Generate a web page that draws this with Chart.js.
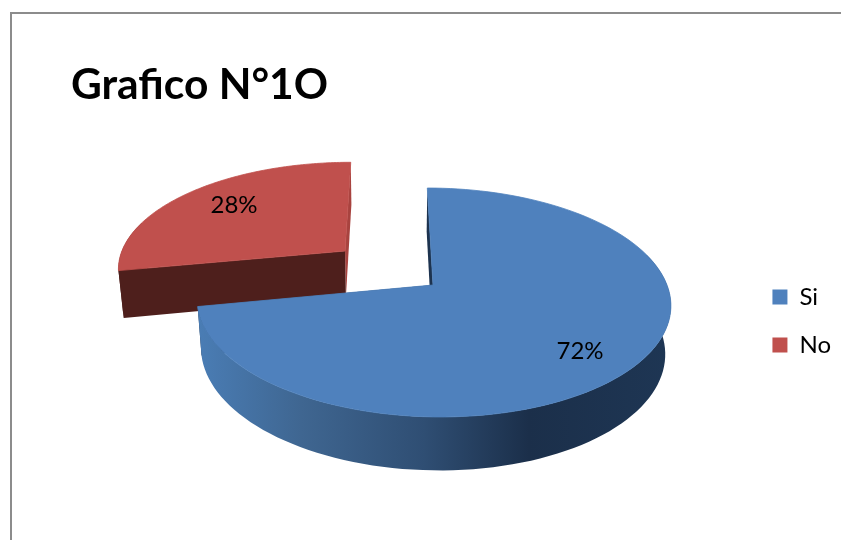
<!DOCTYPE html>
<html>
<head>
<meta charset="utf-8">
<title>Grafico N°1O</title>
<script src="https://cdn.jsdelivr.net/npm/chart.js@4"></script>
<style>
  html, body { margin: 0; padding: 0; background: #fff; overflow: hidden; }
  #frame { position: absolute; left: 10px; top: 12px; width: 840px; height: 540px;
           border-left: 2px solid #8c8c8c; border-top: 2px solid #8c8c8c; }
  #pie { position: absolute; left: 0; top: 0; }
</style>
</head>
<body>
<div id="frame"></div>
<canvas id="pie" width="841" height="540"></canvas>
<script>
const categories = ["Si", "No"];
const values = [72, 28];
const sliceColors = ["#4f81bd", "#c0504d"];
const startFaceColors = ["#1d334f", "#4e1f1c"];
const endFaceColors = ["#1d334f", "#a8433f"];

// tilted, slightly converging view of the pie
const view = {
  cx: 433, cy: 285, radius: 234, squash: 111.8,
  vanishX: 390, persp: 0.1528, thick: 49, thickPersp: 0.02,
};
const explode = [0, 0.5];

// u: right, v: toward the viewer (both in radii), h: 0 top face, 1 bottom face
function project(u, v, h) {
  const w = 1 - view.persp * v + view.thickPersp * h;
  return {
    x: view.vanishX + (view.cx + u * view.radius - view.vanishX) / w,
    y: view.cy + (view.squash * v + view.thick * h) / w,
  };
}

function tracePoly(ctx, pts) {
  ctx.beginPath();
  pts.forEach((p, i) => (i ? ctx.lineTo(p.x, p.y) : ctx.moveTo(p.x, p.y)));
  ctx.closePath();
}

function fillPoly(ctx, pts, fill) {
  tracePoly(ctx, pts);
  ctx.fillStyle = fill;
  ctx.fill();
}

function sliceShape(arc, i) {
  const a0 = arc.startAngle + Math.PI / 2;
  const a1 = arc.endAngle + Math.PI / 2;
  const mid = (a0 + a1) / 2;
  const du = Math.sin(mid) * explode[i];
  const dv = -Math.cos(mid) * explode[i];
  const rim = (a, h) => project(du + Math.sin(a), dv - Math.cos(a), h);
  const apex = (h) => project(du, dv, h);
  const steps = 120;
  const angles = [];
  for (let s = 0; s <= steps; s++) angles.push(a0 + ((a1 - a0) * s) / steps);
  return { a0, a1, rim, apex, angles };
}

function outerWallGradient(ctx) {
  const g = ctx.createLinearGradient(197, 0, 671, 0);
  g.addColorStop(0, "#4a7db5");
  g.addColorStop(0.22, "#3f6691");
  g.addColorStop(0.48, "#2f4e73");
  g.addColorStop(0.7, "#1b2f4a");
  g.addColorStop(1, "#1e3654");
  return g;
}

function drawSlice(ctx, arc, i) {
  const s = sliceShape(arc, i);
  fillPoly(ctx, [s.rim(s.a1, 0), s.apex(0), s.apex(1), s.rim(s.a1, 1)], endFaceColors[i]);

  const wall = i === 0 ? outerWallGradient(ctx) : startFaceColors[i];
  const front = s.angles.filter((a) => Math.cos(a) < 0.3);
  if (front.length) {
    const top = front.map((a) => s.rim(a, 0));
    const bottom = front.map((a) => s.rim(a, 1)).reverse();
    fillPoly(ctx, top.concat(bottom), wall);
  }
  fillPoly(ctx, [s.rim(s.a0, 0), s.apex(0), s.apex(1), s.rim(s.a0, 1)], startFaceColors[i]);

  // thin stroke closes the antialiased seam along the walls
  const face = [s.apex(0)].concat(s.angles.map((a) => s.rim(a, 0)));
  fillPoly(ctx, face, sliceColors[i]);
  ctx.strokeStyle = sliceColors[i];
  ctx.lineWidth = 0.8;
  ctx.stroke();
}

const pie3d = {
  id: "pie3d",
  // the flat arcs are replaced, their angles still come from the controller
  beforeDatasetsDraw(chart) {
    const ctx = chart.ctx;
    const arcs = chart.getDatasetMeta(0).data;
    ctx.save();
    drawSlice(ctx, arcs[1], 1);
    drawSlice(ctx, arcs[0], 0);

    const total = values.reduce((a, b) => a + b, 0);
    ctx.fillStyle = "#000";
    ctx.font = "24px Lato";
    ctx.textAlign = "center";
    ctx.textBaseline = "middle";
    ctx.fillText(Math.round((values[0] / total) * 100) + "%", 580, 351);
    ctx.fillText(Math.round((values[1] / total) * 100) + "%", 234, 205);
    ctx.restore();
    return false;
  },
};

new Chart(document.getElementById("pie"), {
  type: "pie",
  data: {
    labels: categories,
    datasets: [{ data: values, backgroundColor: sliceColors, borderWidth: 0 }],
  },
  plugins: [pie3d],
  options: {
    responsive: false,
    animation: false,
    // negative bottom padding drops the legend below the chart's middle
    layout: { padding: { left: 71, right: 0, top: 60, bottom: -42 } },
    plugins: {
      tooltip: { enabled: false },
      title: {
        display: true,
        text: "Grafico N°1O",
        align: "start",
        color: "#000",
        font: { family: "Lato", size: 42.5, weight: "bold" },
        padding: { top: 0, bottom: 10 },
      },
      legend: {
        position: "right",
        labels: {
          boxWidth: 15,
          boxHeight: 15,
          padding: 24,
          color: "#000",
          font: { family: "Lato", size: 24 },
        },
      },
    },
  },
});
</script>
</body>
</html>
